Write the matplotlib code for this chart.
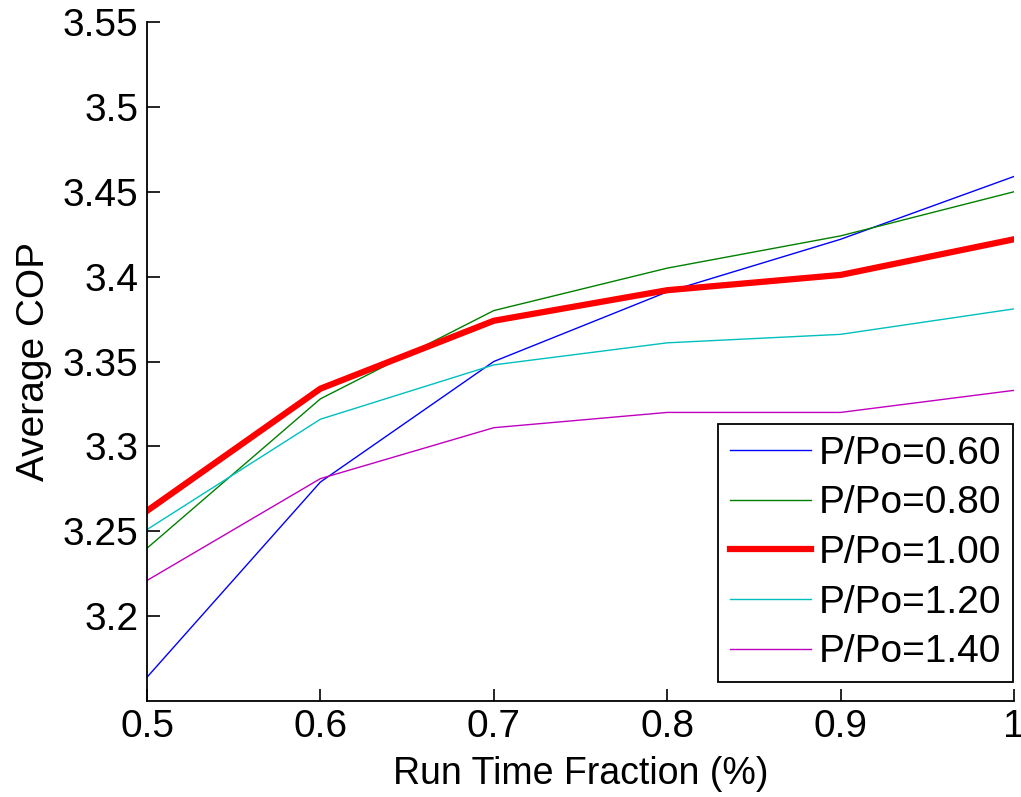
import matplotlib
matplotlib.use("Agg")
import matplotlib.pyplot as plt

plt.rcParams['font.family'] = ['Liberation Sans', 'DejaVu Sans']

# run time fraction and average COP for each pressure ratio
rtf = [0.5, 0.6, 0.7, 0.8, 0.9, 1.0]
cop_060 = [3.164, 3.279, 3.350, 3.391, 3.422, 3.459]
cop_080 = [3.240, 3.328, 3.380, 3.405, 3.424, 3.450]
cop_100 = [3.262, 3.334, 3.374, 3.392, 3.401, 3.422]
cop_120 = [3.251, 3.316, 3.348, 3.361, 3.366, 3.381]
cop_140 = [3.221, 3.281, 3.311, 3.320, 3.320, 3.333]
labels = ['P/Po=0.60', 'P/Po=0.80', 'P/Po=1.00', 'P/Po=1.20', 'P/Po=1.40']
yticks = [3.2, 3.25, 3.3, 3.35, 3.4, 3.45, 3.5, 3.55]
xticks = [0.5, 0.6, 0.7, 0.8, 0.9, 1.0]

fig = plt.figure(figsize=(10.21, 7.97), dpi=100)
ax = fig.add_axes([147 / 1021, 1 - 701 / 797, 867 / 1021, 679 / 797])

ax.plot(rtf, cop_060, color=(0, 0, 1), lw=1.0, label=labels[0])
ax.plot(rtf, cop_080, color=(0, 0.5, 0), lw=1.0, label=labels[1])
ax.plot(rtf, cop_100, color=(1, 0, 0), lw=4.5, label=labels[2])
ax.plot(rtf, cop_120, color=(0, 0.75, 0.75), lw=1.0, label=labels[3])
ax.plot(rtf, cop_140, color=(0.75, 0, 0.75), lw=1.0, label=labels[4])

ax.set_xlim(0.5, 1.0)
ax.set_ylim(3.15, 3.55)
ax.set_xticks(xticks)
ax.set_xticklabels(['0.5', '0.6', '0.7', '0.8', '0.9', '1'])
ax.set_yticks(yticks)
ax.set_yticklabels(['3.2', '3.25', '3.3', '3.35', '3.4', '3.45', '3.5', '3.55'])
ax.tick_params(direction='in', length=9, width=1.2, labelsize=28, pad=6)
ax.spines['top'].set_visible(False)
ax.spines['right'].set_visible(False)
for s in ('left', 'bottom'):
    ax.spines[s].set_linewidth(1.3)

ax.set_xlabel('Run Time Fraction (%)', fontsize=27, labelpad=8)
ax.set_ylabel('Average COP', fontsize=28, labelpad=8)

leg = ax.legend(loc='lower right', bbox_to_anchor=(0.999, 0.028), borderaxespad=0,
                fontsize=28, fancybox=False, edgecolor='black', framealpha=1,
                handlelength=2.1, handletextpad=0.2, labelspacing=0.35,
                borderpad=0.3)
leg.get_frame().set_linewidth(1.3)

fig.savefig('out.png', dpi=100)
